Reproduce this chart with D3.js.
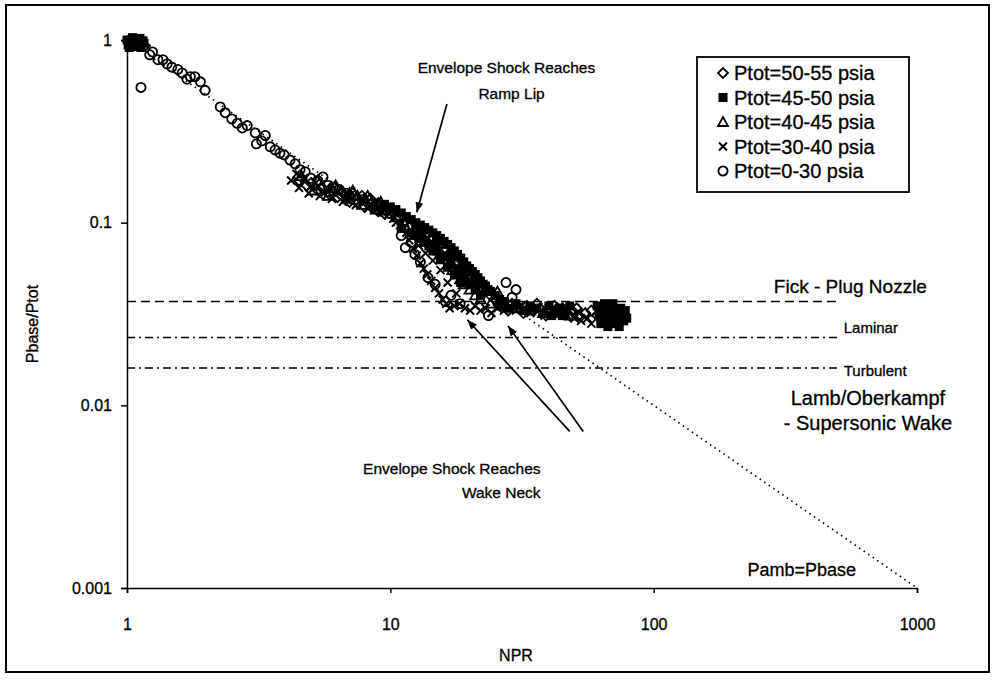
<!DOCTYPE html>
<html>
<head>
<meta charset="utf-8">
<script src="https://cdn.jsdelivr.net/npm/d3@7"></script>
<style>
  body { margin: 0; background: #fff; }
  svg text { font-family: "Liberation Sans", Arial, sans-serif; fill: #000; stroke: #000; stroke-width: 0.3px; }
</style>
</head>
<body>
<div id="chart"></div>
<script>
// ---- data: [NPR, Pbase/Ptot] ----
const ptot50 = [
  [1.01,0.99],[1.05,0.98],[1.09,0.97],[1.13,0.95],[1.17,0.93],
  [4.5,0.17],[5.0,0.165],[5.5,0.155],[6.0,0.15],[6.6,0.146],[7.0,0.13],[8.0,0.122],[9.0,0.115],
  [4.8,0.16],[5.3,0.15],[5.9,0.142],[6.3,0.138],[7.5,0.128],[8.6,0.12],[9.5,0.112],
  [7.2,0.145],[7.8,0.14],[8.4,0.135],[9.0,0.128],[9.6,0.122],[10.2,0.116],[10.8,0.108],[11.4,0.102],
  [12.0,0.097],[12.6,0.093],[13.2,0.089],[13.8,0.086],[14.4,0.083],[15.0,0.079],[15.6,0.076],
  [16.2,0.072],[16.8,0.068],[17.4,0.065],[18.0,0.061],[18.6,0.058],[19.2,0.055],[19.8,0.052],
  [20.5,0.05],[21.2,0.047],[22.0,0.045],[23.0,0.042],[24.0,0.04],[25.0,0.038],
  [27,0.035],[29,0.036],[31,0.034],[33,0.035],[35,0.033],[37,0.034],[40,0.033],[43,0.034],
  [46,0.032],[49,0.033],[52,0.031],[55,0.032],[58,0.033],[61,0.031],[64,0.033],[67,0.030],[70,0.032],
  [28,0.033],[32,0.032],[36,0.036],[39,0.031],[42,0.035],[45,0.034],[48,0.031],[51,0.034]
];
const ptot45 = [
  [1.0,1.0],[1.02,0.97],[1.04,1.0],[1.06,0.95],[1.08,0.98],[1.1,0.99],[1.12,0.97],[1.14,0.98],[1.03,0.93],[1.16,0.96],
  [1.01,0.94],[1.07,1.01],[1.11,0.94],[1.15,0.99],[1.02,0.91],[1.09,0.92],[1.13,0.91],[1.05,1.03],[1.12,1.02],
  [9.5,0.126],[10.0,0.122],[10.5,0.118],[11.0,0.113],[11.5,0.108],[12.0,0.104],[12.5,0.1],[13.0,0.097],
  [13.5,0.094],[14.0,0.091],[14.5,0.088],[15.0,0.085],[15.5,0.082],[16.0,0.079],[16.5,0.076],[17.0,0.073],
  [17.5,0.07],[18.0,0.067],[18.5,0.064],[19.0,0.061],[19.5,0.058],[20.0,0.056],[20.5,0.054],[21.0,0.052],
  [21.5,0.05],[22.0,0.048],[22.5,0.046],[23.0,0.045],[23.5,0.043],[24.0,0.042],[25.0,0.04],[26.0,0.038],[27.0,0.037],
  [11.0,0.093],[12.0,0.088],[13.0,0.082],[14.0,0.076],[15.0,0.07],[16.0,0.065],[17.0,0.06],[18.0,0.055],
  [19.0,0.05],[20.0,0.046],[21.0,0.043],[22.0,0.04],
  [12.5,0.085],[13.5,0.078],[14.5,0.07],[15.5,0.063],[16.5,0.057],[17.5,0.052],[18.5,0.047],
  [13,0.092],[15,0.078],[17,0.066],[19,0.056],[21,0.048],[23,0.042],
  [26,0.035],[28,0.034],[30,0.036],[32,0.033],[34,0.035],[36,0.034],[38,0.032],[40,0.035],[42,0.033],
  [44,0.034],[46,0.032],[48,0.035],[41,0.031],[45,0.031],
  [61,0.035],[62,0.031],[63,0.028],[64,0.033],[65,0.036],[66,0.030],[67,0.027],[68,0.034],[69,0.031],
  [70,0.036],[71,0.028],[72,0.033],[73,0.030],[74,0.027],[75,0.034],[76,0.031],[77,0.029],[78,0.033],
  [79,0.030],[66,0.033],[70,0.030],[74,0.031]
];
const ptot40 = [
  [4.6,0.18],[5.1,0.15],[5.8,0.14],[6.8,0.135],[7.8,0.125],[8.8,0.118],
  [5.3,0.17],[6.2,0.16],[7.2,0.15],[8.2,0.14],[9.2,0.13],
  [5.5,0.16],[6.0,0.155],[6.5,0.15],[7.0,0.145],[7.5,0.14],[8.0,0.135],[8.5,0.13],[9.0,0.124],[9.5,0.118],
  [10.0,0.112],[10.6,0.107],[11.2,0.101],[11.8,0.096],[12.4,0.09],[13.0,0.085],[13.6,0.08],[14.2,0.075],
  [14.8,0.071],[15.4,0.067],[16.0,0.063],[16.6,0.059],[17.2,0.055],[17.8,0.052],[18.4,0.049],[19.0,0.046],
  [20.0,0.043],[21.0,0.04],[22.0,0.038],[25.5,0.042],[24.0,0.036],[27.0,0.035],[30.0,0.034],[34.0,0.033],
  [38.0,0.032],[43.0,0.032],[48.0,0.031]
];
const ptot30 = [
  [4.2,0.17],[4.5,0.155],[4.7,0.175],[4.9,0.145],[5.2,0.165],[5.4,0.14],[5.7,0.155],[6.0,0.135],[6.3,0.15],
  [6.6,0.13],[7.0,0.14],[7.4,0.125],[7.8,0.135],[8.2,0.12],[8.7,0.128],[9.2,0.115],[9.7,0.12],[10.3,0.106],
  [4.4,0.185],[5.0,0.158],[5.6,0.145],[6.2,0.142],[6.9,0.132],[7.6,0.13],[8.4,0.125],[9.0,0.12],[9.9,0.112],[10.5,0.1],
  [10.9,0.097],[11.5,0.088],[11.8,0.08],[12.2,0.072],[12.6,0.066],[13.0,0.06],[13.4,0.056],[13.8,0.052],
  [14.3,0.048],[14.8,0.044],[15.3,0.041],[15.8,0.038],[16.3,0.036],[16.8,0.034],[17.5,0.035],[18.3,0.036],
  [19.2,0.034],[20.1,0.033],[21.0,0.035],[22.0,0.033],[23.0,0.034],[24.2,0.032],[25.5,0.034],[27.0,0.033],
  [28.5,0.035],[30.0,0.033],[32.0,0.034],[34.0,0.032],[36.0,0.033],[38.5,0.031],[41.0,0.033],[44.0,0.032],
  [47.0,0.031],[50.0,0.03],[53.0,0.029],[56.0,0.030],[58.0,0.028],
  [12.8,0.075],[13.6,0.068],[14.5,0.062],[15.5,0.055],[16.5,0.047],[17.8,0.041],[26.0,0.036],[31.0,0.035],
  [35.0,0.034],[40.0,0.034],[45.0,0.033],[52.0,0.032]
];
const ptot0 = [
  [1.13,0.55],[1.22,0.83],[1.25,0.86],[1.31,0.78],[1.37,0.78],[1.42,0.74],[1.48,0.71],[1.56,0.69],[1.62,0.66],
  [1.69,0.61],[1.74,0.63],[1.81,0.63],[1.90,0.59],[1.98,0.53],[2.26,0.43],[2.36,0.40],[2.50,0.37],[2.62,0.35],
  [2.74,0.33],[2.86,0.34],[3.07,0.31],[3.10,0.27],[3.25,0.28],[3.35,0.30],[3.50,0.26],[3.65,0.25],[3.81,0.24],
  [3.95,0.235],[4.16,0.22],[4.35,0.21],[4.54,0.195],[4.75,0.19],[5.0,0.175],[5.3,0.17],[5.55,0.178],[5.8,0.16],
  [6.06,0.157],[6.4,0.152],[6.8,0.145],[7.3,0.14],[7.9,0.134],[8.5,0.127],[9.2,0.12],[10.0,0.112],
  [11.4,0.073],[11.0,0.085],[12.4,0.067],[13.0,0.061],[13.9,0.05],[14.8,0.046],[16.2,0.037],[17.0,0.04],
  [18.4,0.036],[23.6,0.031],[27.5,0.047],[30.0,0.043],[29.0,0.039],[12.0,0.078]
];

const seriesNames = ["Ptot=50-55 psia", "Ptot=45-50 psia", "Ptot=40-45 psia", "Ptot=30-40 psia", "Ptot=0-30 psia"];
const seriesData = [ptot50, ptot45, ptot40, ptot30, ptot0];
const seriesShapes = ["diamond", "square", "triangle", "cross", "circle"];

// reference correlations (Pbase/Ptot), drawn from NPR 1 to 500
const refNames = ["Fick - Plug Nozzle", "Laminar", "Turbulent"];
const refValues = [0.037, 0.0235, 0.016];
const refNprRange = [1, 500];
const pambLine = [[1, 1], [1000, 0.001]];   // Pamb = Pbase  ->  Pbase/Ptot = 1/NPR

const xTicks = [1, 10, 100, 1000];
const yTicks = [1, 0.1, 0.01, 0.001];

// ---- layout ----
const W = 994, H = 681;
const plot = {left: 127, right: 917, top: 40, bottom: 588};

const svg = d3.select("#chart").append("svg")
  .attr("width", W).attr("height", H);

svg.append("rect").attr("width", W).attr("height", H).attr("fill", "#fff");
svg.append("rect")
  .attr("x", 6).attr("y", 5).attr("width", 983).attr("height", 667)
  .attr("fill", "none").attr("stroke", "#000").attr("stroke-width", 2);

const x = d3.scaleLog().domain([1, 1000]).range([plot.left, plot.right]);
const y = d3.scaleLog().domain([0.001, 1]).range([plot.bottom, plot.top]);

// axes
const yAxis = svg.append("g")
  .attr("transform", `translate(${plot.left},0)`)
  .call(d3.axisLeft(y).tickValues(yTicks).tickFormat(d => String(d)).tickSizeOuter(0).tickSize(6).tickPadding(9));
const xAxis = svg.append("g")
  .attr("transform", `translate(0,${plot.bottom})`)
  .call(d3.axisBottom(x).tickValues(xTicks).tickFormat(d => String(d)).tickSizeOuter(0).tickSize(5).tickPadding(26));
[xAxis, yAxis].forEach(g => {
  g.selectAll("path, line").attr("stroke", "#000").attr("stroke-width", 1.5);
  g.selectAll("text").attr("font-size", 16).attr("fill", "#000")
    .attr("font-family", '"Liberation Sans", Arial, sans-serif');
});

svg.append("text")
  .attr("transform", `translate(38,${(plot.top + plot.bottom) / 2 + 10}) rotate(-90)`)
  .attr("text-anchor", "middle").attr("font-size", 16)
  .text("Pbase/Ptot");
svg.append("text")
  .attr("x", 516).attr("y", 661)
  .attr("text-anchor", "middle").attr("font-size", 16)
  .text("NPR");

// reference lines
const refDash = ["9,5", "8,4,2,4", "8,4,2,4"];
refValues.forEach((v, i) => {
  svg.append("line")
    .attr("x1", x(refNprRange[0])).attr("x2", x(refNprRange[1]))
    .attr("y1", y(v)).attr("y2", y(v))
    .attr("stroke", "#000").attr("stroke-width", 1.6)
    .attr("stroke-dasharray", refDash[i]);
});

svg.append("line")
  .attr("x1", x(pambLine[0][0])).attr("y1", y(pambLine[0][1]))
  .attr("x2", x(pambLine[1][0])).attr("y2", y(pambLine[1][1]))
  .attr("stroke", "#000").attr("stroke-width", 1.7)
  .attr("stroke-dasharray", "1.5,4");

// markers
function drawMarker(sel, shape) {
  if (shape === "circle") {
    sel.append("circle").attr("r", 4.6)
      .attr("fill", "none").attr("stroke", "#000").attr("stroke-width", 1.8);
  } else if (shape === "square") {
    sel.append("rect").attr("x", -4.5).attr("y", -4.5).attr("width", 9).attr("height", 9)
      .attr("fill", "#000");
  } else if (shape === "diamond") {
    sel.append("path").attr("d", "M0,-5L5,0L0,5L-5,0Z")
      .attr("fill", "none").attr("stroke", "#000").attr("stroke-width", 1.8);
  } else if (shape === "triangle") {
    sel.append("path").attr("d", "M0,-5L5,4L-5,4Z")
      .attr("fill", "none").attr("stroke", "#000").attr("stroke-width", 1.8);
  } else {
    sel.append("path").attr("d", "M-4,-4L4,4M4,-4L-4,4")
      .attr("fill", "none").attr("stroke", "#000").attr("stroke-width", 2);
  }
}

seriesData.forEach((data, i) => {
  const pts = svg.append("g").selectAll("g")
    .data(data).enter().append("g")
    .attr("transform", d => `translate(${x(d[0])},${y(d[1])})`);
  drawMarker(pts, seriesShapes[i]);
});

// legend
const legend = svg.append("g");
legend.append("rect")
  .attr("x", 697).attr("y", 57).attr("width", 212).attr("height", 135)
  .attr("fill", "#fff").attr("stroke", "#000").attr("stroke-width", 1.8);
seriesNames.forEach((name, i) => {
  const row = legend.append("g").attr("transform", `translate(723,${73 + i * 24.5})`);
  drawMarker(row, seriesShapes[i]);
  row.append("text").attr("x", 11).attr("y", 7).attr("font-size", 20).text(name);
});

// annotations, one entry per text line: anchor point in data coords
const notes = [
  {text: "Envelope Shock Reaches", at: [12.7, 0.66], anchor: "start", size: 15.5},
  {text: "Ramp Lip", at: [21.6, 0.475], anchor: "start", size: 15.5},
  {text: "Envelope Shock Reaches", at: [37.2, 0.0042], anchor: "end", size: 15.5},
  {text: "Wake Neck", at: [37.2, 0.0031], anchor: "end", size: 15.5},
  {text: "Fick - Plug Nozzle", at: [286, 0.0412], anchor: "start", size: 19},
  {text: "Laminar", at: [527, 0.0249], anchor: "start", size: 15},
  {text: "Turbulent", at: [527, 0.0145], anchor: "start", size: 15},
  {text: "Lamb/Oberkampf", at: [651, 0.0101], anchor: "middle", size: 20},
  {text: "- Supersonic Wake", at: [651, 0.0073], anchor: "middle", size: 20},
  {text: "Pamb=Pbase", at: [227, 0.00116], anchor: "start", size: 18}
];
notes.forEach(n => {
  svg.append("text")
    .attr("x", x(n.at[0])).attr("y", y(n.at[1]))
    .attr("text-anchor", n.anchor).attr("font-size", n.size)
    .text(n.text);
});

// arrows: [from, to] in data coords
const arrows = [
  [[16.4, 0.446], [12.6, 0.114]],
  [[48, 0.0072], [19.6, 0.0294]],
  [[54, 0.0072], [28.0, 0.0272]]
];
svg.append("defs").append("marker")
  .attr("id", "head").attr("viewBox", "0 0 10 10")
  .attr("refX", 10).attr("refY", 5)
  .attr("markerWidth", 10).attr("markerHeight", 10)
  .attr("markerUnits", "userSpaceOnUse")
  .attr("orient", "auto")
  .append("path").attr("d", "M0,1L10,5L0,9Z").attr("fill", "#000");
arrows.forEach(a => {
  svg.append("line")
    .attr("x1", x(a[0][0])).attr("y1", y(a[0][1]))
    .attr("x2", x(a[1][0])).attr("y2", y(a[1][1]))
    .attr("stroke", "#000").attr("stroke-width", 1.7)
    .attr("marker-end", "url(#head)");
});
</script>
</body>
</html>
